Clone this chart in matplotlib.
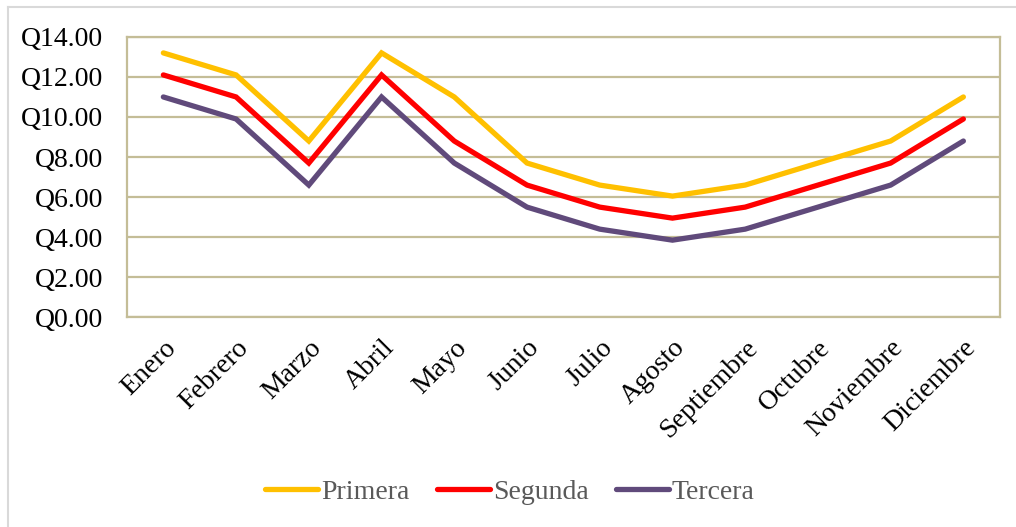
import matplotlib
matplotlib.use("Agg")
import matplotlib.pyplot as plt
from matplotlib.lines import Line2D
from matplotlib.ticker import FuncFormatter, MultipleLocator

months = ["Enero", "Febrero", "Marzo", "Abril", "Mayo", "Junio", "Julio",
          "Agosto", "Septiembre", "Octubre", "Noviembre", "Diciembre"]
primera = [13.20, 12.10, 8.80, 13.20, 11.00, 7.70, 6.60, 6.05, 6.60, 7.70, 8.80, 11.00]
segunda = [12.10, 11.00, 7.70, 12.10, 8.80, 6.60, 5.50, 4.95, 5.50, 6.60, 7.70, 9.90]
tercera = [11.00, 9.90, 6.60, 11.00, 7.70, 5.50, 4.40, 3.85, 4.40, 5.50, 6.60, 8.80]

series = [("Primera", primera, "#FFC000"),
          ("Segunda", segunda, "#FF0000"),
          ("Tercera", tercera, "#604A7B")]

plt.rcParams["font.family"] = ["Liberation Serif", "DejaVu Serif"]

fig = plt.figure(figsize=(10.16, 5.27), dpi=100)
ax = fig.add_axes([0.125, 0.398, 0.859, 0.532])

x = list(range(len(months)))
for name, vals, col in series:
    ax.plot(x, vals, color=col, lw=3.8, label=name, solid_capstyle="round",
            solid_joinstyle="miter")

grid_col = "#C4BD97"
ax.set_xlim(-0.5, len(months) - 0.5)
ax.set_ylim(0, 14)
ax.yaxis.set_major_locator(MultipleLocator(2))
ax.yaxis.set_major_formatter(FuncFormatter(lambda v, p: f"Q{v:.2f}"))
ax.grid(axis="y", color=grid_col, lw=1.6)
ax.set_axisbelow(True)
for sp in ax.spines.values():
    sp.set_color(grid_col)
    sp.set_linewidth(1.6)
ax.tick_params(axis="both", length=0, labelsize=20, colors="black")
ax.tick_params(axis="y", pad=17)
ax.set_xticks(x)
ax.set_xticklabels(months, rotation=45, ha="right", va="top",
                   rotation_mode="anchor")
ax.tick_params(axis="x", pad=13)

leg = fig.legend(loc="center", bbox_to_anchor=(0.502, 0.066), ncol=3,
                 frameon=False, fontsize=20, handlelength=1.9,
                 handletextpad=0.1, columnspacing=1.0)
for t in leg.get_texts():
    t.set_color("#595959")

# outer chart border (top and left edges)
border = "#D9D9D9"
fig.add_artist(Line2D([8 / 1016, 1.0], [1 - 7 / 527, 1 - 7 / 527],
                      transform=fig.transFigure, color=border, lw=1.5))
fig.add_artist(Line2D([8 / 1016, 8 / 1016], [0.0, 1 - 7 / 527],
                      transform=fig.transFigure, color=border, lw=1.5))

fig.savefig("out.png", dpi=100, facecolor="white")
